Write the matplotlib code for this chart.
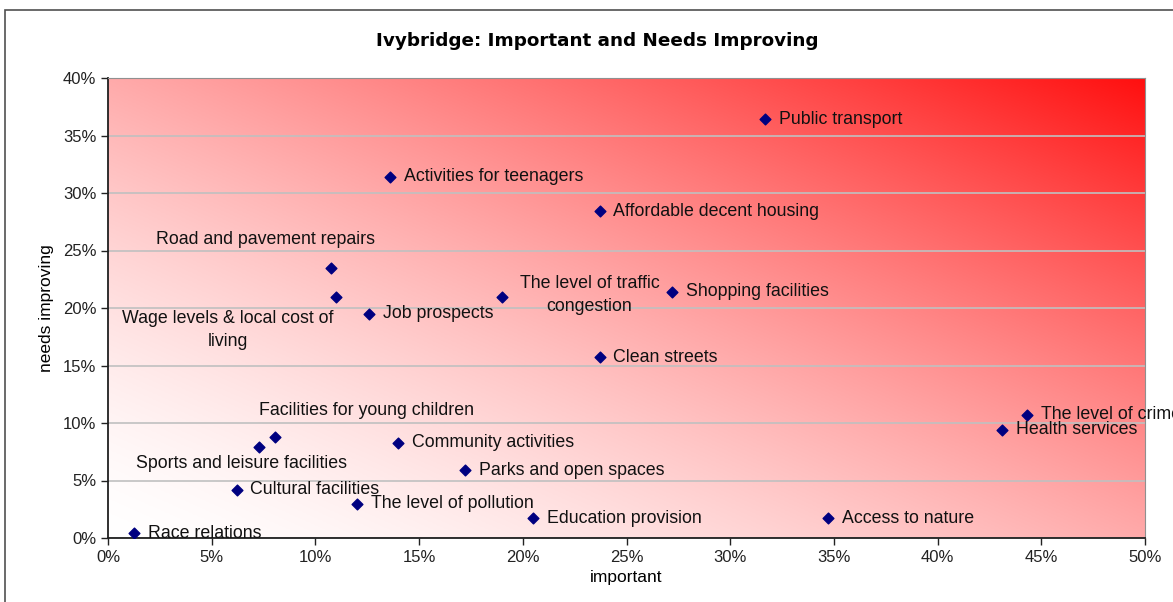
import numpy as np
import matplotlib
matplotlib.use("Agg")
import matplotlib.pyplot as plt
from matplotlib.ticker import MultipleLocator, PercentFormatter
from matplotlib.patches import Rectangle

plt.rcParams["font.family"] = ["Liberation Sans", "DejaVu Sans"]

# ===================== 数据 =====================
labels = [
    "Public transport", "Activities for teenagers", "Affordable decent housing",
    "Road and pavement repairs", "Wage levels & local cost of\nliving", "Job prospects",
    "The level of traffic\ncongestion", "Shopping facilities", "Clean streets",
    "The level of crime", "Health services", "Facilities for young children",
    "Sports and leisure facilities", "Community activities", "Parks and open spaces",
    "Cultural facilities", "The level of pollution", "Education provision",
    "Access to nature", "Race relations",
]
important = [31.7, 13.6, 23.7, 10.75, 11.0, 12.6, 19.0, 27.2, 23.7, 44.3,
             43.1, 8.05, 7.3, 14.0, 17.2, 6.2, 12.0, 20.5, 34.7, 1.25]
needs_improving = [36.4, 31.4, 28.4, 23.5, 21.0, 19.5, 21.0, 21.4, 15.7, 10.7,
                   9.4, 8.8, 7.9, 8.3, 5.9, 4.2, 3.0, 1.7, 1.7, 0.4]

# 标签偏移（points），默认放在点的右侧
default_off = (10, 0)
special_off = {
    "Road and pavement repairs": (-47, 20),
    "Wage levels & local cost of\nliving": (-78, -24),
    "Facilities for young children": (66, 19),
    "Sports and leisure facilities": (-13, -12),
    "The level of traffic\ncongestion": (63, 1),
}

# ===================== 画布 =====================
fig = plt.figure(figsize=(11.73, 6.02), dpi=100)
ax = fig.add_axes([108 / 1173, 1 - 538 / 602, 1037 / 1173, 460 / 602])

# 外框
fig.patches.append(Rectangle((5 / 1173, -0.1), 1.2, 1 - 10 / 602 + 0.1,
                             transform=fig.transFigure, fill=False,
                             edgecolor="#505050", linewidth=1.2, zorder=0))

# 背景渐变：左下白色 -> 右上红色
n = 256
u = np.linspace(0, 1, n)
U, V = np.meshgrid(u, u)
t = ((U + V) / 2) ** 1.5
grad = np.zeros((n, n, 3))
grad[..., 0] = 1.0
grad[..., 1] = 1 - t * 0.94
grad[..., 2] = 1 - t * 0.94
ax.imshow(grad, extent=(0, 50, 0, 40), origin="lower", aspect="auto", zorder=0)

ax.set_xlim(0, 50)
ax.set_ylim(0, 40)
ax.xaxis.set_major_locator(MultipleLocator(5))
ax.yaxis.set_major_locator(MultipleLocator(5))
ax.xaxis.set_major_formatter(PercentFormatter(decimals=0))
ax.yaxis.set_major_formatter(PercentFormatter(decimals=0))
ax.grid(axis="y", color="#c0c0c0", linewidth=1.2, zorder=1)
ax.set_axisbelow(True)
ax.tick_params(direction="out", length=5, width=1, labelsize=12, colors="#222222")
for s in ["left", "bottom"]:
    ax.spines[s].set_color("#202020")
    ax.spines[s].set_linewidth(1.3)
for s in ["top", "right"]:
    ax.spines[s].set_color("#909090")

ax.scatter(important, needs_improving, marker="D", s=30, color="#000080", zorder=3)

for lab, x, y in zip(labels, important, needs_improving):
    if lab in special_off:
        ax.annotate(lab, (x, y), xytext=special_off[lab], textcoords="offset points",
                    ha="center", va="center", fontsize=12.8, color="#111111",
                    multialignment="center", linespacing=1.45,
                    annotation_clip=False, zorder=4)
    else:
        ax.annotate(lab, (x, y), xytext=default_off, textcoords="offset points",
                    ha="left", va="center", fontsize=12.8, color="#111111",
                    annotation_clip=False, zorder=4)

ax.set_xlabel("important", fontsize=12.5, labelpad=4)
ax.set_ylabel("needs improving", fontsize=12.5, labelpad=6)
fig.text(597 / 1173, 1 - 41 / 602, "Ivybridge: Important and Needs Improving",
         ha="center", va="center", fontsize=13.2, fontweight="bold",
         family=["DejaVu Sans"])

fig.savefig("out.png", dpi=100)
